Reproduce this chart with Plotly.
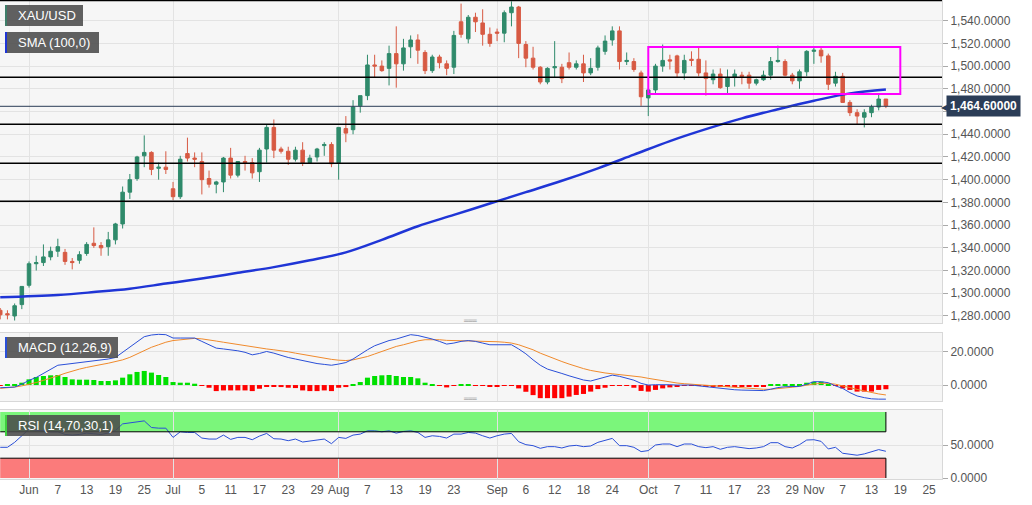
import pandas as pd
import plotly.graph_objects as go
from plotly.subplots import make_subplots

# trading days shown on the chart (weekdays, 28 May - 15 Nov 2019)
days = pd.bdate_range("2019-05-28", "2019-11-15")

opens = [
    1285, 1282, 1280, 1290,
    1307, 1326, 1327, 1332, 1337,
    1336, 1328, 1329, 1335, 1344,
    1342, 1341, 1347, 1361, 1389,
    1401, 1421, 1424, 1410, 1411,
    1392, 1385, 1423, 1419, 1416,
    1401, 1396, 1398, 1419, 1404,
    1416, 1415, 1407, 1427, 1446,
    1427, 1425, 1418, 1426, 1415,
    1420, 1430, 1431, 1415, 1445,
    1444, 1465, 1474, 1501, 1500,
    1498, 1511, 1502, 1517, 1523,
    1512, 1496, 1508, 1502, 1499,
    1539, 1524, 1543, 1538, 1528,
    1530, 1529, 1547, 1552, 1519,
    1507, 1499, 1486, 1498.5, 1499,
    1503, 1499, 1502, 1494, 1499,
    1513, 1523, 1531, 1504, 1504,
    1494, 1472, 1479, 1500, 1505.5,
    1509, 1494, 1506, 1506, 1494,
    1488, 1493, 1482, 1490, 1492,
    1492, 1485, 1488, 1492, 1504,
    1504, 1492, 1487, 1495, 1513,
    1514, 1509, 1485, 1491, 1468,
    1459, 1455, 1459, 1464, 1471,
]
highs = [
    1287, 1285, 1291, 1306,
    1328, 1333, 1343, 1341, 1348,
    1339, 1331, 1337, 1345, 1358,
    1345, 1354, 1362, 1394, 1405,
    1421, 1439, 1425, 1415, 1425,
    1398, 1421, 1437, 1424, 1424,
    1408, 1399, 1420, 1428, 1416,
    1421, 1419, 1428, 1449, 1453,
    1429, 1429, 1429, 1433, 1422,
    1428, 1433, 1433, 1446, 1456,
    1470, 1474, 1510, 1510, 1505,
    1518, 1535, 1524, 1527, 1528,
    1514, 1510, 1510, 1505, 1531,
    1555, 1545, 1547, 1550, 1534,
    1533, 1549, 1557, 1553, 1522,
    1517, 1500, 1499, 1522, 1502,
    1512, 1505, 1510, 1507, 1518,
    1527, 1535, 1535, 1512, 1507,
    1496, 1480, 1502, 1519, 1510,
    1510, 1510, 1513, 1516, 1505,
    1497, 1498, 1497, 1497, 1495,
    1495, 1489, 1496, 1508, 1518,
    1506, 1494, 1497, 1514, 1516,
    1516, 1511, 1495, 1494, 1470,
    1462, 1462, 1466, 1475, 1471,
]
lows = [
    1277, 1277, 1276, 1286,
    1305, 1320, 1324, 1329, 1332,
    1325, 1321, 1326, 1333, 1340,
    1333, 1333, 1343, 1357, 1383,
    1399, 1411, 1404, 1400, 1405,
    1382, 1383, 1416, 1411, 1387,
    1393, 1388, 1389, 1401, 1402,
    1408, 1401, 1398, 1415, 1419,
    1423, 1413, 1416, 1412, 1414,
    1416, 1421, 1411, 1400, 1433,
    1440, 1459, 1470, 1490, 1495,
    1483, 1481, 1496, 1507, 1502,
    1493, 1494, 1498, 1492, 1493,
    1525, 1520, 1530, 1518, 1517,
    1522, 1521, 1535, 1507, 1499,
    1497, 1484, 1484, 1490, 1485,
    1497, 1497, 1486, 1492, 1496,
    1510, 1518, 1497, 1501, 1495,
    1465, 1456, 1476, 1495, 1497,
    1490, 1488, 1500, 1491, 1474,
    1484, 1480, 1476, 1482, 1484,
    1480, 1483, 1487, 1488, 1503,
    1491, 1484, 1480, 1491, 1502,
    1503, 1479, 1482, 1468, 1456,
    1449, 1446, 1455, 1461, 1463,
]
closes = [
    1281, 1281, 1289, 1306,
    1326, 1327, 1332, 1337, 1341,
    1328, 1327, 1334, 1343, 1342,
    1340, 1347, 1361, 1389, 1400,
    1420, 1424, 1409, 1411, 1409,
    1385, 1418, 1419, 1418, 1400,
    1396, 1398, 1419, 1404, 1416,
    1415, 1406, 1426, 1446, 1426,
    1425, 1418, 1426, 1415, 1419,
    1427, 1431, 1414, 1446, 1441,
    1464, 1474, 1501, 1500, 1496,
    1511, 1502, 1516, 1523, 1514,
    1496, 1508, 1503, 1498, 1527,
    1528, 1543, 1539, 1528, 1520,
    1529, 1547, 1552, 1520, 1507,
    1499, 1486, 1498, 1499.5, 1489,
    1499, 1502, 1494, 1498, 1516,
    1522, 1531, 1504, 1505, 1497,
    1473, 1479, 1500, 1505, 1504.5,
    1494, 1505, 1505, 1494, 1489,
    1493, 1481, 1490, 1493, 1491,
    1485, 1488, 1492, 1504, 1505,
    1492, 1487, 1495, 1513, 1514,
    1509, 1484, 1491, 1468, 1459,
    1456, 1459, 1464, 1471, 1465,
]

sma_dates = ["2019-05-28", "2019-06-07", "2019-06-14", "2019-06-21", "2019-06-28",
             "2019-07-05", "2019-07-12", "2019-07-19", "2019-07-26", "2019-08-02",
             "2019-08-09", "2019-08-16", "2019-08-23", "2019-08-30", "2019-09-06",
             "2019-09-13", "2019-09-20", "2019-09-27", "2019-10-04", "2019-10-11",
             "2019-10-18", "2019-10-25", "2019-11-01", "2019-11-08", "2019-11-15"]
sma_values = [1296.5, 1298.5, 1301, 1304, 1308.5, 1313, 1318, 1323, 1329, 1336,
              1347, 1359, 1369, 1379, 1389, 1399, 1410, 1422, 1434, 1444.5,
              1454, 1462, 1469.5, 1476, 1479.5]

macd = [
    -1.6, -1.5, -1.2, 0.5,
    2.8, 4.5, 6.8, 9.5, 11.8,
    12.3, 12.8, 13.4, 14, 14.5,
    14.8, 15.5, 16.4, 19.5, 22.4,
    26, 28.8, 29.8, 30.2, 30,
    28, 28, 28.2, 28, 26,
    24, 22, 21.5, 21, 20.4,
    19.5, 18, 18.8, 20, 19,
    17.5, 16.4, 15.5, 14.5, 13.4,
    12.8, 12.3, 11.8, 12.5, 13.4,
    15.5, 18.4, 21, 23.4, 25,
    26.5, 27.4, 28.8, 30, 29.5,
    28.5, 27.4, 26, 24.4, 25,
    26, 26.5, 26, 25, 24,
    24, 24, 24, 21.5, 18.6,
    15, 11.8, 9.5, 8, 6.9,
    5.5, 4.2, 3, 2.4, 3.5,
    5, 5.9, 5.2, 4, 2.9,
    1, 0, 0.2, 0.3, 0.2,
    0, 0.1, 0, -0.5, -1,
    -1.5, -2, -2.5, -2.8, -3,
    -3.2, -3.3, -3.3, -2.5, -1.5,
    -1, -1, -0.8, 0.5, 2,
    2, 1.4, -0.5, -2, -4.5,
    -6.5, -7.5, -8.2, -8.4, -8.4,
]
signal = [
    -2, -1.8, -1.2, -0.5,
    0.4, 1.5, 2.8, 4, 5.5,
    7, 8.4, 9.5, 10.5, 11.5,
    12.2, 13, 14, 15, 16.5,
    18.5, 20.5, 22.5, 24, 25.5,
    26.5, 27, 27.5, 27.8, 27.5,
    27, 26.2, 25.5, 24.8, 24,
    23.3, 22.6, 22, 21.5, 21,
    20.5, 19.8, 19, 18.2, 17.5,
    16.8, 16, 15.3, 14.8, 14.6,
    15, 15.8, 17, 18.5, 20,
    21.5, 23, 24, 25.3, 26.3,
    27, 27.2, 27, 26.6, 26.5,
    26.5, 26.5, 26.5, 26.3, 26,
    25.8, 25.5, 25, 24, 22.5,
    21, 19, 17.2, 15.5, 14,
    12.5, 11, 9.8, 8.7, 7.8,
    7.2, 6.7, 6.3, 5.9, 5.5,
    4.8, 4, 3.2, 2.4, 1.8,
    1.2, 0.8, 0.5, 0.3, 0,
    -0.3, -0.6, -1, -1.4, -1.8,
    -2.1, -2.3, -2.5, -2.5, -2.2,
    -1.8, -1.3, -0.8, 0, 0.6,
    1, 1, 0.5, -0.3, -1.5,
    -2.6, -3.6, -4.5, -5.3, -5.9,
]
hist = [
    -0.2, 0.2, 0.3, 1.4,
    3.4, 4.8, 5.4, 5.8, 6,
    4.8, 3.4, 3.2, 3.2, 3,
    2.4, 2.4, 2.8, 4.4, 6.4,
    7.8, 8.4, 7.4, 6, 4.8,
    1.8, 1.4, 1.4, 0.8, -0.2,
    -1.6, -3.6, -3.2, -3.2, -3.2,
    -3.2, -3.6, -2.2, -1, -1,
    -1.2, -1.6, -1.8, -3.2, -3.6,
    -3.6, -3.2, -3.6, -1.6, -1.2,
    0.3, 1.8, 4.4, 5.4, 5.8,
    6, 5.4, 4.8, 4.8, 4,
    1.4, 0.2, -0.2, -1.4, -0.3,
    0.2, 0.3, -0.2, -0.4, -1,
    -1, -0.3, -0.3, -2, -4,
    -6, -7.8, -7.8, -7.8, -7.8,
    -6.9, -5.9, -5.3, -3.9, -2.4,
    -1.6, -0.3, -0.3, -0.4, -1.6,
    -3.5, -3.9, -2.9, -2, -1.4,
    -1, -0.5, -0.3, -0.3, -1,
    -1, -1, -1.1, -1.2, -1.1,
    -1, -1, -0.6, 0.3, 0.3,
    0.3, 0.3, 0.3, 1.4, 2,
    2, 0.6, -0.3, -2, -2.9,
    -3.9, -3.9, -3.9, -2.9, -2.5,
]
rsi = [
    46.5, 46.5, 54, 64,
    74, 72, 72, 70, 70,
    66, 65, 66, 68, 67,
    66, 68, 72, 82, 84,
    85, 86.5, 76.5, 75.5, 75.5,
    61.5, 70, 69, 69, 60.5,
    59, 59, 65, 58.5, 61.5,
    61.5, 58, 63.5, 67.5, 59.5,
    59, 56.5, 59, 54.5, 55.5,
    57.5, 59, 52, 61.5, 60,
    65, 66.5, 71.5, 71.5, 70,
    71.5, 68, 70.5, 71.5, 69,
    61.5, 64, 63, 60.5, 66.5,
    66.5, 69, 68, 64, 60.5,
    64, 66.5, 67.5, 55, 50.5,
    49, 45, 47.5, 47.5, 45.5,
    48.5, 49.5, 47.5, 48.5, 54,
    56.5, 60, 49, 49, 46.5,
    40, 41.5, 50, 51.5, 51.5,
    47.5, 51.5, 51.5, 47.5, 46,
    47.5, 43.5, 46.5, 47.5, 46.5,
    44.5, 45.5, 47.5, 53.5, 53.5,
    47.5, 45.5, 50.5, 57.5, 58,
    55.5, 44, 46.5, 37.5, 35.5,
    34.5, 36.5, 39.5, 43, 40.5,
]

levels = [1557.8, 1490.2, 1448.8, 1414.4, 1381.0]
last_price = 1464.6
range_box = ["2019-10-01", "2019-11-19", 1475.5, 1516.8]

tick_dates = ["2019-06-03", "2019-06-07", "2019-06-13", "2019-06-19", "2019-06-25",
              "2019-07-01", "2019-07-05", "2019-07-11", "2019-07-17", "2019-07-23",
              "2019-07-29", "2019-08-01", "2019-08-07", "2019-08-13", "2019-08-19",
              "2019-08-23", "2019-09-02", "2019-09-06", "2019-09-12", "2019-09-18",
              "2019-09-24", "2019-10-01", "2019-10-07", "2019-10-11", "2019-10-17",
              "2019-10-23", "2019-10-29", "2019-11-01", "2019-11-07", "2019-11-13",
              "2019-11-19", "2019-11-25"]
tick_text = ["Jun", "7", "13", "19", "25", "Jul", "5", "11", "17", "23", "29",
             "Aug", "7", "13", "19", "23", "Sep", "6", "12", "18", "24",
             "Oct", "7", "11", "17", "23", "29", "Nov", "7", "13", "19", "25"]
month_starts = ["2019-06-03", "2019-07-01", "2019-08-01", "2019-09-02",
                "2019-10-01", "2019-11-01"]
price_ticks = list(range(1280, 1541, 20))
# the 1,460 label sits under the last-price tag
price_text = ["" if p == 1460 else f"{p:,.4f}" for p in price_ticks]

GREEN = "#2f8a6b"
RED = "#d75a43"
FONT = "Arial, Liberation Sans, sans-serif"
W, H = 1032, 505
PLOT_W, PLOT_H = 942, 479

fig = make_subplots(rows=3, cols=1, shared_xaxes=True, vertical_spacing=0.02)

fig.add_trace(go.Candlestick(
    x=days, open=opens, high=highs, low=lows, close=closes,
    increasing=dict(line=dict(color=GREEN, width=1), fillcolor=GREEN),
    decreasing=dict(line=dict(color=RED, width=1), fillcolor=RED),
    whiskerwidth=0, showlegend=False), row=1, col=1)
fig.add_trace(go.Scatter(x=sma_dates, y=sma_values, mode="lines",
                         line=dict(color="#1f35d6", width=2.5, shape="spline"),
                         showlegend=False), row=1, col=1)

bar_colors = ["#00e000" if v >= 0 else "#ff0000" for v in hist]
fig.add_trace(go.Bar(x=days, y=hist, marker=dict(color=bar_colors, line=dict(width=0)),
                     showlegend=False), row=2, col=1)
fig.add_trace(go.Scatter(x=days, y=signal, mode="lines",
                         line=dict(color="#f08a2c", width=1), showlegend=False), row=2, col=1)
fig.add_trace(go.Scatter(x=days, y=macd, mode="lines",
                         line=dict(color="#2a4fd8", width=1), showlegend=False), row=2, col=1)

fig.add_trace(go.Scatter(x=days, y=rsi, mode="lines",
                         line=dict(color="#2a4fd8", width=1), showlegend=False), row=3, col=1)

# RSI zones
first, last = days[0], days[-1]
fig.add_shape(type="rect", xref="x3", yref="y3", x0=first, x1=last, y0=70, y1=100,
              fillcolor="rgba(0,245,0,0.5)", line_width=0, layer="below")
fig.add_shape(type="rect", xref="x3", yref="y3", x0=first, x1=last, y0=0, y1=30,
              fillcolor="rgba(255,0,0,0.5)", line_width=0, layer="below")
for lv in (70, 30):
    fig.add_shape(type="line", xref="x3", yref="y3", x0=first, x1=last, y0=lv, y1=lv,
                  line=dict(color="black", width=1))
fig.add_shape(type="line", xref="x3", yref="y3", x0=last, x1=last, y0=70, y1=100,
              line=dict(color="black", width=1))
fig.add_shape(type="line", xref="x3", yref="y3", x0=last, x1=last, y0=0, y1=30,
              line=dict(color="black", width=1))

# horizontal levels and current price
for lv in levels:
    fig.add_shape(type="line", xref="x domain", yref="y", x0=0, x1=1, y0=lv, y1=lv,
                  line=dict(color="black", width=1.5))
fig.add_shape(type="line", xref="x domain", yref="y", x0=0, x1=1, y0=last_price,
              y1=last_price, line=dict(color="#2b3d57", width=1))
fig.add_shape(type="rect", xref="x", yref="y", x0=range_box[0], x1=range_box[1],
              y0=range_box[2], y1=range_box[3], line=dict(color="#ff00ff", width=2))

fig.add_annotation(xref="paper", yref="y", x=946 / PLOT_W, y=last_price, xanchor="left",
                   text="<b>1,464.60000</b>", showarrow=False, bgcolor="#2b3d57",
                   borderpad=3, font=dict(color="white", size=12, family=FONT))
fig.add_annotation(xref="paper", yref="y", x=950 / PLOT_W, y=last_price, xanchor="right",
                   text="◀", showarrow=False, font=dict(color="#2b3d57", size=8))

# pane labels
labels = [("XAU/USD", 5, 83, 5, 26, "#3d7d68"),
          ("SMA (100,0)", 5, 99, 32, 53, "#1f35d6"),
          ("MACD (12,26,9)", 5, 118, 337, 358, "#2a4fd8"),
          ("RSI (14,70,30,1)", 5, 120, 415, 436, "#3fcf3f")]
for text, x0, x1, y0, y1, accent in labels:
    fig.add_shape(type="rect", xref="paper", yref="paper", x0=x0 / PLOT_W, x1=x1 / PLOT_W,
                  y0=1 - y1 / PLOT_H, y1=1 - y0 / PLOT_H, fillcolor="rgba(75,75,75,0.88)",
                  line_width=0, layer="above")
    fig.add_shape(type="rect", xref="paper", yref="paper", x0=x0 / PLOT_W,
                  x1=(x0 + 2) / PLOT_W, y0=1 - y1 / PLOT_H, y1=1 - y0 / PLOT_H,
                  fillcolor=accent, line_width=0, layer="above")
    fig.add_annotation(xref="paper", yref="paper", x=(x0 + 11) / PLOT_W,
                       y=1 - (y0 + y1) / 2 / PLOT_H, xanchor="left", yanchor="middle",
                       text=text, showarrow=False,
                       font=dict(color="white", size=13, family=FONT))

for ypx in (327, 405):
    fig.add_annotation(xref="paper", yref="paper", x=470 / PLOT_W, y=1 - ypx / PLOT_H,
                       text="═══", showarrow=False,
                       font=dict(color="#888", size=7, family="DejaVu Sans"))

grid = "#e3e3e3"
fig.update_xaxes(
    type="date",
    rangebreaks=[dict(bounds=["sat", "mon"])],
    range=["2019-05-27 23:15", "2019-11-26 19:00"],
    rangeslider_visible=False,
    showgrid=False,
    tickmode="array", tickvals=tick_dates, ticktext=tick_text, ticks="",
    minor=dict(tickmode="array", tickvals=month_starts, showgrid=True,
               gridcolor=grid, gridwidth=1, ticks=""),
    showline=True, mirror=True, linecolor="#d8d8d8", linewidth=1,
    tickfont=dict(size=12, color="#555", family=FONT),
)
common_y = dict(side="right", ticks="outside", ticklen=5, tickcolor="#aaa",
                showgrid=True, gridcolor=grid, zeroline=False,
                showline=True, mirror=True, linecolor="#d8d8d8",
                tickfont=dict(size=12, color="#555", family=FONT))
fig.update_layout(
    width=W, height=H,
    margin=dict(l=0, r=W - PLOT_W, t=0, b=H - PLOT_H),
    paper_bgcolor="white", plot_bgcolor="#f6f6f6",
    bargap=0.3, hovermode=False,
    xaxis_rangeslider_visible=False,
    yaxis=dict(domain=[1 - 323 / PLOT_H, 1], range=[1273.8, 1558.2],
               tickmode="array", tickvals=price_ticks, ticktext=price_text, **common_y),
    yaxis2=dict(domain=[1 - 401 / PLOT_H, 1 - 333 / PLOT_H], range=[-9.5, 31],
                tickmode="array", tickvals=[0, 20], tickformat=".4f", **common_y),
    yaxis3=dict(domain=[0, 1 - 410 / PLOT_H], range=[-1.5, 103],
                tickmode="array", tickvals=[0, 50], tickformat=".4f", **common_y),
)

fig.write_html("out.html", config={"displayModeBar": False},
               post_script="document.body.style.margin='0px';")
